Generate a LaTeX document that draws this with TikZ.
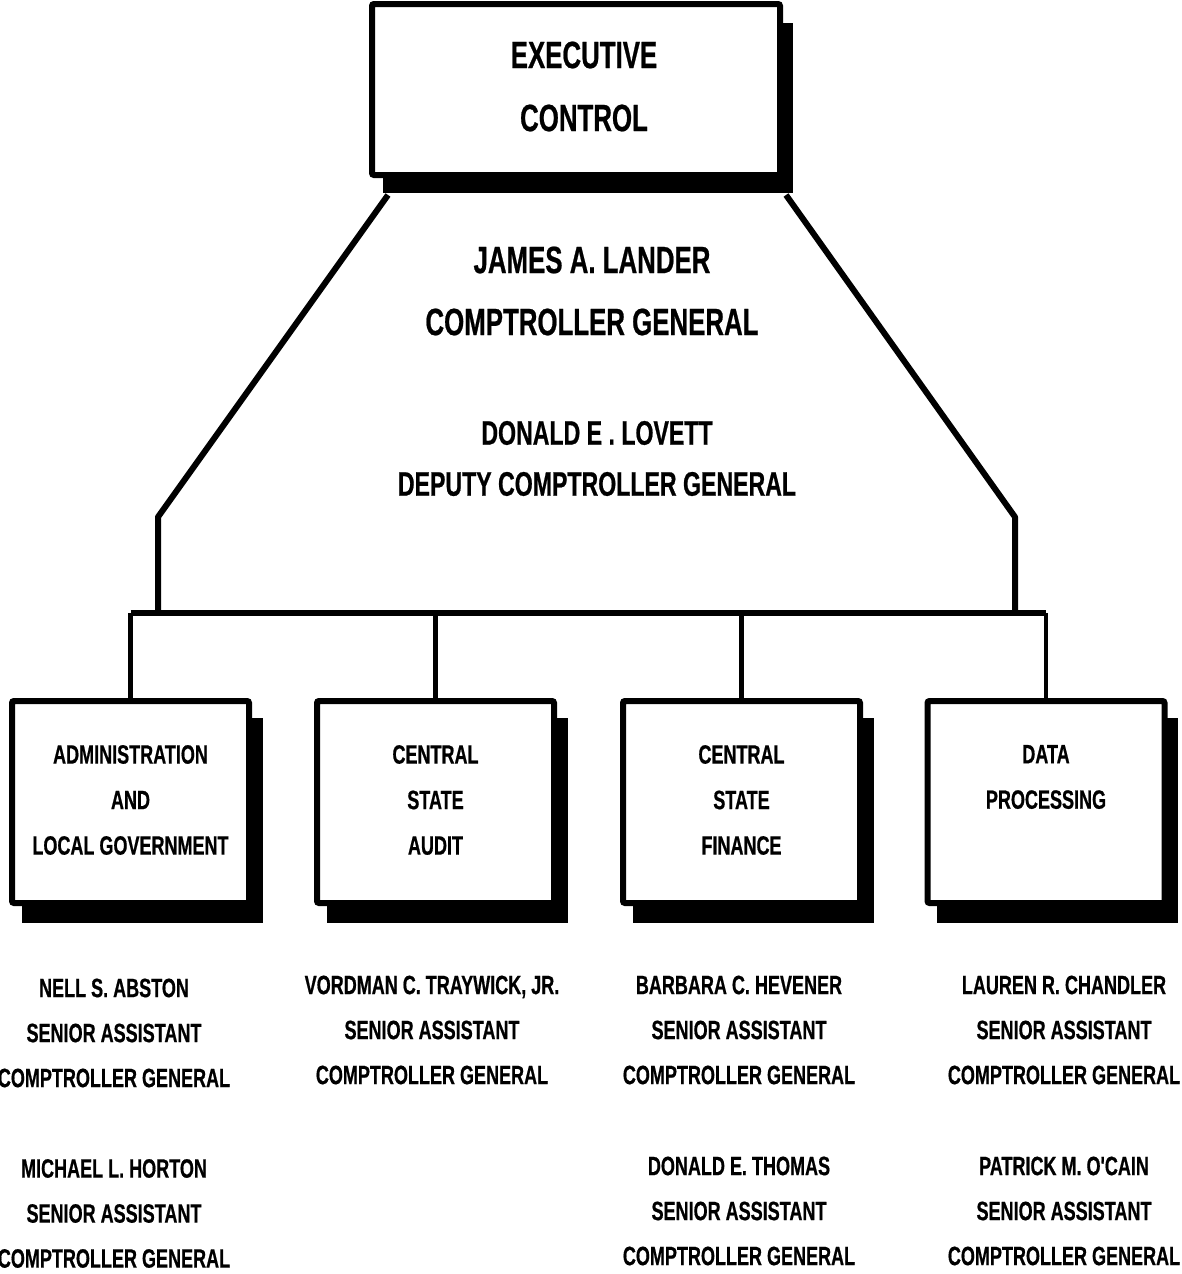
\documentclass[tikz,border=0pt]{standalone}
\usepackage{fontspec}
\newfontfamily\cond{Liberation Sans}[FakeStretch=0.68,BoldFeatures={FakeBold=0.6}]
\begin{document}
\begin{tikzpicture}[x=1pt,y=-1pt,
  box/.style={draw,line width=6pt,rounded corners=2pt,fill=white,inner sep=0pt},
  conn/.style={line width=6pt,line join=round},
  drop/.style={line width=4.5pt},
  big/.style={font=\cond\bfseries\fontsize{38}{63}\selectfont,align=center,inner sep=0pt},
  mid/.style={font=\cond\bfseries\fontsize{34}{51}\selectfont,align=center,inner sep=0pt},
  small/.style={font=\cond\bfseries\fontsize{26.5}{45.5}\selectfont,align=center,inner sep=0pt},
  person/.style={font=\cond\bfseries\fontsize{26.5}{45}\selectfont,align=center,inner sep=0pt}]
\useasboundingbox (0,0) rectangle (1181,1274);
% shadows
\fill (383,23) rectangle (793,193);
\foreach \l in {9,314,620,924}{
  \fill (\l+13,718) rectangle (\l+254,923);
}
% top box
\node[box,minimum width=408pt,minimum height=171pt] (exec) at (576,89.5) {};
\node[big] (exectext) at (584,86.5) {EXECUTIVE\\CONTROL};
% department boxes
\node[box,minimum width=237pt,minimum height=202pt] (b1) at (130.5,802) {};
\node[box,minimum width=237pt,minimum height=202pt] (b2) at (435.5,802) {};
\node[box,minimum width=237pt,minimum height=202pt] (b3) at (741.5,802) {};
\node[box,minimum width=237pt,minimum height=202pt] (b4) at (1046,802) {};
\node[small] (t1) at (130.5,800) {ADMINISTRATION\\AND\\LOCAL GOVERNMENT};
\node[small] (t2) at (435.5,800) {CENTRAL\\STATE\\AUDIT};
\node[small] (t3) at (741.5,800) {CENTRAL\\STATE\\FINANCE};
\node[small] (t4) at (1046,777) {DATA\\PROCESSING};
% connectors
\coordinate (dl) at (388,195);
\coordinate (kl) at (158,517);
\coordinate (busl) at (130.5,613);
\coordinate (busr) at (1046,613);
\coordinate (dr) at (786,195);
\coordinate (kr) at (1015,517);
\draw[conn] (dl) -- (kl) -- (kl |- busl);
\draw[conn] (dr) -- (kr) -- (kr |- busr);
\draw[conn] (busl) -- (busr);
\draw[drop] (b1.north) -- (b1.north |- busl);
\draw[drop] (b2.north) -- (b2.north |- busl);
\draw[drop] (b3.north) -- (b3.north |- busl);
\draw[drop] (b4.north) -- (b4.north |- busr);
% central texts
\node[big,font=\cond\bfseries\fontsize{38}{62}\selectfont] (cg) at (592,291) {JAMES A. LANDER\\COMPTROLLER GENERAL};
\node[mid] (dcg) at (597,458.5) {DONALD E . LOVETT\\DEPUTY COMPTROLLER GENERAL};
% names
\node[person] (n1a) at (114,1033) {NELL S. ABSTON\\SENIOR ASSISTANT\\COMPTROLLER GENERAL};
\node[person] (n1b) at (114,1213.5) {MICHAEL L. HORTON\\SENIOR ASSISTANT\\COMPTROLLER GENERAL};
\node[person] (n2a) at (432,1030) {VORDMAN C. TRAYWICK, JR.\\SENIOR ASSISTANT\\COMPTROLLER GENERAL};
\node[person] (n3a) at (739,1030) {BARBARA C. HEVENER\\SENIOR ASSISTANT\\COMPTROLLER GENERAL};
\node[person] (n3b) at (739,1211) {DONALD E. THOMAS\\SENIOR ASSISTANT\\COMPTROLLER GENERAL};
\node[person] (n4a) at (1064,1030) {LAUREN R. CHANDLER\\SENIOR ASSISTANT\\COMPTROLLER GENERAL};
\node[person] (n4b) at (1064,1211) {PATRICK M. O'CAIN\\SENIOR ASSISTANT\\COMPTROLLER GENERAL};
\end{tikzpicture}
\end{document}
